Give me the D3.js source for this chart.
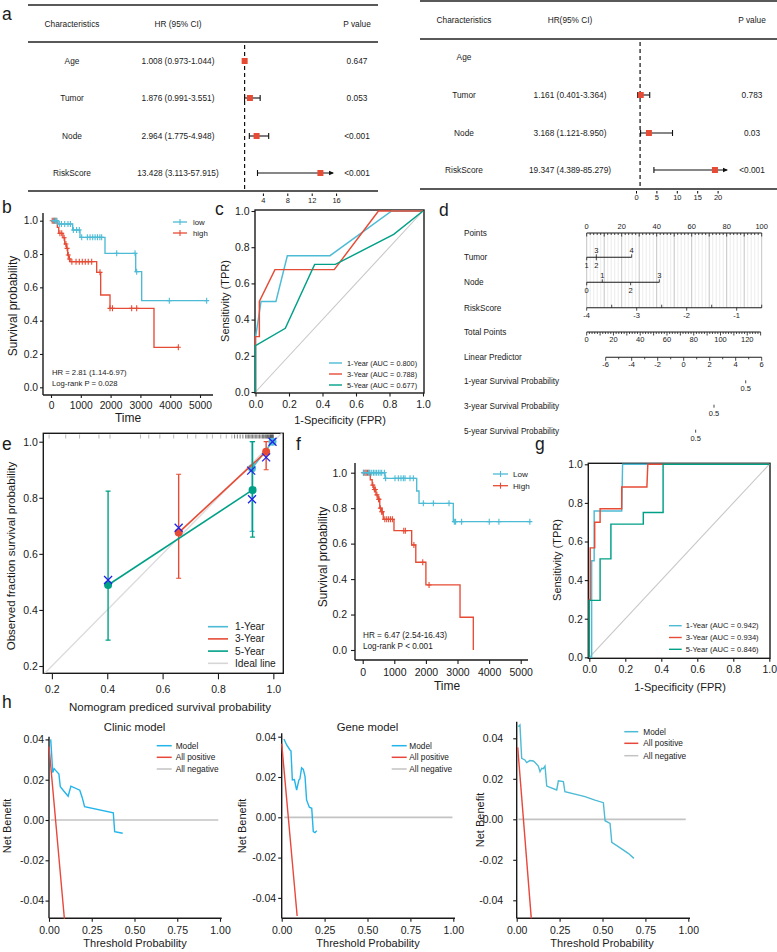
<!DOCTYPE html>
<html>
<head>
<meta charset="utf-8">
<script src="https://cdn.jsdelivr.net/npm/d3@7"></script>
<style>
  body { margin: 0; background: #fff; }
  svg text { font-family: "Liberation Sans", Arial, sans-serif; fill: #1a1a1a; }
</style>
</head>
<body>
<svg id="fig" width="777" height="952"></svg>
<script>
// ---------------- data ----------------
// a: cox forest tables (univariate left, multivariate right)
var coxVars = ["Age", "Tumor", "Node", "RiskScore"];
var uniHR = [1.008, 1.876, 2.964, 13.428];
var uniLo = [0.973, 0.991, 1.775, 3.113];
var uniHi = [1.044, 3.551, 4.948, 57.915];
var uniP  = ["0.647", "0.053", "<0.001", "<0.001"];
var multiHR = [null, 1.161, 3.168, 19.347];
var multiLo = [null, 0.401, 1.121, 4.389];
var multiHi = [null, 3.364, 8.950, 85.279];
var multiP  = ["", "0.783", "0.03", "<0.001"];
var uniTicks = [4, 8, 12, 16];
var multiTicks = [0, 5, 10, 15, 20];

// b: KM curves, risk groups
var kmTimeTicks = [0, 1000, 2000, 3000, 4000, 5000];
var probTicks = [0, 0.2, 0.4, 0.6, 0.8, 1.0];
var bLowTime = [0, 235, 728, 973, 1812, 2842, 3043, 5224];
var bLowSurv = [1, 0.98, 0.944, 0.90, 0.804, 0.694, 0.52, 0.52];
var bLowCens = [100, 150, 200, 280, 350, 460, 570, 650, 750, 860, 950, 1030, 1220, 1310, 1400, 1480, 1560, 1640, 1700, 2205, 2820, 2875, 3970, 5224];
var bHighTime = [0, 213, 260, 400, 460, 520, 560, 600, 640, 1533, 1667, 1980, 3456, 4273];
var bHighSurv = [1, 0.96, 0.924, 0.898, 0.86, 0.834, 0.794, 0.77, 0.754, 0.69, 0.554, 0.474, 0.24, 0.24];
var bHighCens = [40, 80, 120, 170, 300, 360, 440, 500, 540, 580, 620, 700, 840, 950, 1050, 1150, 1250, 1365, 1644, 1980, 2063, 2707, 2875, 4273];

// c: time-dependent ROC
var rocYears = ["1-Year", "3-Year", "5-Year"];
var cAUC = [0.800, 0.788, 0.677];
var c1Fpr = [0, 0, 0.033, 0.122, 0.19, 0.445, 0.813, 1];
var c1Tpr = [0, 0.30, 0.50, 0.50, 0.753, 0.753, 1, 1];
var c3Fpr = [0, 0, 0.023, 0.023, 0.116, 0.47, 0.734, 1];
var c3Tpr = [0, 0.306, 0.306, 0.5, 0.676, 0.676, 1, 1];
var c5Fpr = [0, 0, 0.178, 0.353, 0.477, 0.825, 1];
var c5Tpr = [0, 0.256, 0.352, 0.705, 0.705, 0.871, 1];
var unitTicks = [0, 0.2, 0.4, 0.6, 0.8, 1.0];
var diagLine = [0, 1];

// d: nomogram
var nomoRows = ["Points", "Tumor", "Node", "RiskScore", "Total Points", "Linear Predictor",
  "1-year Survival Probability", "3-year Survival Probability", "5-year Survival Probability"];
var tumorLevels = ["1", "2", "3", "4"];
var tumorPts = [0, 5.5, 5.5, 25.7];
var tumorSide = ["below", "below", "above", "above"];
var nodeLevels = ["0", "1", "2", "3"];
var nodePts = [0, 8.9, 25.1, 41.5];
var nodeSide = ["below", "above", "below", "above"];
var riskTicks = [-4, -3, -2, -1];
var totalTicks = [0, 20, 40, 60, 80, 100, 120];
var lpTicks = [-6, -4, -2, 0, 2, 4, 6];
var survProbLabel = ["0.5", "0.5", "0.5"];
var survProbLP = [4.77, 2.33, 0.92];

// e: calibration
var calYears = ["1-Year", "3-Year", "5-Year", "Ideal line"];
var cal1Pred = [0.923, 0.997], cal1Obs = [0.905, 1.0], cal1Lo = [0.68, 1.0], cal1Hi = [1.0, 1.0];
var cal3Pred = [0.658, 0.974], cal3Obs = [0.676, 0.964], cal3Lo = [0.513, 0.90], cal3Hi = [0.884, 1.0];
var cal5Pred = [0.403, 0.925], cal5Obs = [0.489, 0.828], cal5Lo = [0.292, 0.66], cal5Hi = [0.824, 1.0];
var kmXPred = [0.403, 0.658, 0.923, 0.92, 0.974, 0.997];
var kmXObs  = [0.507, 0.693, 0.795, 0.897, 0.944, 1.0];
var calRug = [0.19, 0.25, 0.30, 0.37, 0.41, 0.52, 0.55, 0.59, 0.64, 0.69, 0.72, 0.76, 0.78, 0.81, 0.83, 0.85,
  0.86, 0.87, 0.88, 0.89, 0.90, 0.905, 0.91, 0.915, 0.92, 0.925, 0.93, 0.935, 0.94, 0.945, 0.95, 0.955, 0.96,
  0.963, 0.966, 0.97, 0.973, 0.976, 0.979, 0.982, 0.985, 0.988, 0.99, 0.992, 0.994, 0.996, 0.998, 1.0];
var calTicks = [0.2, 0.4, 0.6, 0.8, 1.0];
var idealLine = [0, 1.1];

// f: KM curves, second set
var fLowTime = [0, 706, 1709, 1782, 2867, 5294];
var fLowSurv = [1, 0.968, 0.897, 0.827, 0.724, 0.724];
var fLowCens = [20, 100, 180, 230, 285, 340, 390, 440, 496, 550, 601, 686, 726, 1022, 1128, 1212, 1286, 1339, 1497, 1603, 1919, 2236, 2732, 2900, 2940, 3130, 4005, 4310, 5290];
var fHighTime = [0, 240, 300, 350, 420, 480, 540, 600, 650, 990, 1550, 1680, 2000, 3080, 3500];
var fHighSurv = [1.0, 0.96, 0.93, 0.905, 0.875, 0.85, 0.80, 0.78, 0.737, 0.673, 0.592, 0.495, 0.367, 0.185, 0];
var fHighCens = [30, 70, 110, 150, 200, 320, 370, 400, 450, 500, 520, 560, 600, 620, 700, 760, 820, 880, 940, 1300, 1350, 1620, 1900, 2100];

// g: ROC, second set
var gAUC = [0.942, 0.934, 0.846];
var g1Fpr = [0, 0.013, 0.013, 0.027, 0.027, 0.18, 0.185, 1];
var g1Tpr = [0, 0, 0.5, 0.5, 0.758, 0.758, 1.0, 1];
var g3Fpr = [0, 0, 0.005, 0.005, 0.03, 0.03, 0.06, 0.06, 0.18, 0.18, 0.32, 0.325, 1];
var g3Tpr = [0, 0.3, 0.3, 0.567, 0.567, 0.70, 0.70, 0.77, 0.77, 0.882, 0.882, 1.0, 1];
var g5Fpr = [0, 0, 0.06, 0.06, 0.12, 0.12, 0.30, 0.30, 0.41, 0.41, 1];
var g5Tpr = [0, 0.295, 0.295, 0.51, 0.51, 0.69, 0.69, 0.75, 0.75, 1.0, 1];

// h: decision curves
var dcaLabels = ["Model", "All positive", "All negative"];
var dcaXTicks = [0, 0.25, 0.5, 0.75, 1.0];
var dcaYTicks = [-0.04, -0.02, 0, 0.02, 0.04];
var h1ModelX = [0.010, 0.022, 0.030, 0.040, 0.058, 0.066, 0.090, 0.112, 0.128, 0.180, 0.194, 0.208, 0.376, 0.384, 0.431];
var h1ModelY = [0.040, 0.0235, 0.0255, 0.0245, 0.0228, 0.0165, 0.0140, 0.0118, 0.0168, 0.0148, 0.0112, 0.0066, 0.0036, -0.0058, -0.0066];
var h1PosX = [0, 0.09], h1PosY = [0.0365, -0.049];
var h1NegX = [0.01, 0.99], h1NegY = [0, 0];
var h2ModelX = [0.013, 0.029, 0.048, 0.054, 0.062, 0.074, 0.087, 0.100, 0.106, 0.116, 0.126, 0.136, 0.145, 0.161, 0.175, 0.184, 0.194, 0.204];
var h2ModelY = [0.0389, 0.0359, 0.0334, 0.033, 0.0185, 0.0187, 0.0135, 0.0185, 0.019, 0.0245, 0.0238, 0.0202, 0.0086, 0.005, 0.0045, -0.0071, -0.0076, -0.0066];
var h2PosX = [0, 0.09], h2PosY = [0.0365, -0.049];
var h2NegX = [0.015, 0.995], h2NegY = [0, 0];
var h3ModelX = [0.0095, 0.019, 0.029, 0.048, 0.058, 0.077, 0.097, 0.107, 0.126, 0.136, 0.146, 0.155, 0.165, 0.175, 0.233, 0.243, 0.272, 0.281, 0.398, 0.456, 0.505, 0.515, 0.544, 0.554, 0.592, 0.65, 0.683];
var h3ModelY = [0.0457, 0.0466, 0.0301, 0.0293, 0.028, 0.029, 0.0288, 0.028, 0.0263, 0.0235, 0.0252, 0.025, 0.0263, 0.0164, 0.0145, 0.019, 0.0186, 0.0136, 0.0112, 0.0095, 0.0082, -0.0007, -0.002, -0.0114, -0.0135, -0.0168, -0.0193];
var h3PosX = [0.006, 0.085], h3PosY = [0.0355, -0.0489];
var h3NegX = [0.01, 0.985], h3NegY = [0, 0];

// ---------------- drawing ----------------
var svg = d3.select("#fig");
var RED = "#E64B35", CYAN = "#4DBBD5", GREEN = "#00A087", BLUE = "#2323E6";
var INK = "#1a1a1a";
// plain hyphen for negative numbers, like the original figure
var loc = d3.formatLocale({decimal: ".", thousands: ",", grouping: [3], currency: ["$", ""], minus: "-"});
var f1 = loc.format(".1f"), f2 = loc.format(".2f"), f3 = loc.format(".3f"), fd = loc.format("d");

function txt(g, x, y, s, size, anchor) {
  return g.append("text").attr("x", x).attr("y", y).attr("font-size", size)
    .attr("text-anchor", anchor || "start").text(s);
}
function vtxt(g, x, y, s, size) {
  return g.append("text").attr("transform", "translate(" + x + "," + y + ") rotate(-90)")
    .attr("font-size", size).attr("text-anchor", "middle").text(s);
}
function seg(g, x1, y1, x2, y2, color, w) {
  return g.append("line").attr("x1", x1).attr("y1", y1).attr("x2", x2).attr("y2", y2)
    .attr("stroke", color || INK).attr("stroke-width", w || 1);
}
function pathXY(g, x, y, xs, ys, color, w) {
  var pts = xs.map(function(v, i) { return [v, ys[i]]; });
  return g.append("path").datum(pts)
    .attr("d", d3.line().x(function(d) { return x(d[0]); }).y(function(d) { return y(d[1]); }))
    .attr("fill", "none").attr("stroke", color).attr("stroke-width", w || 1.2);
}

// axes: either a full box (base R) or an L shape (ggplot-like)
function axes(g, x, y, o) {
  var ax = g.append("g").attr("transform", "translate(0," + o.bottom + ")")
    .call(d3.axisBottom(x).tickValues(o.xTicks).tickFormat(o.xFmt).tickSize(o.xTick || o.tick).tickPadding(o.xPad));
  var ay = g.append("g").attr("transform", "translate(" + o.left + ",0)")
    .call(d3.axisLeft(y).tickValues(o.yTicks).tickFormat(o.yFmt).tickSize(o.tick).tickPadding(o.yPad));
  [ax, ay].forEach(function(a) {
    a.select(".domain").remove();
    a.selectAll("text").attr("font-size", o.fs).attr("fill", INK);
    a.selectAll("line").attr("stroke", INK).attr("stroke-width", 1.1);
  });
  if (o.box) {
    g.append("rect").attr("x", o.left).attr("y", o.top).attr("width", o.right - o.left)
      .attr("height", o.bottom - o.top).attr("fill", "none").attr("stroke", INK).attr("stroke-width", 1.4);
  } else {
    seg(g, o.left, o.top, o.left, o.bottom, INK, 1.4);
    seg(g, o.left, o.bottom, o.right, o.bottom, INK, 1.4);
  }
}

function panelLetter(s, x, y) { txt(svg, x, y, s, 17.5); }

// ---- a: forest tables ----
function forest(o) {
  var g = svg.append("g");
  var x = d3.scaleLinear().domain(o.domain).range(o.range);
  [o.top, o.head, o.bottom].forEach(function(yy) { seg(g, o.left, yy, o.right, yy, "#222", 1.6); });
  txt(g, o.cols[0], o.headY + 3, "Characteristics", 8.3, "middle");
  txt(g, o.cols[1], o.headY + 3, o.hrTitle, 8.3, "middle");
  txt(g, o.cols[2], o.headY + 3, "P value", 8.3, "middle");
  seg(g, x(1), o.head + 3, x(1), o.bottom, "#111", 1.2).attr("stroke-dasharray", "4,3");
  coxVars.forEach(function(v, i) {
    var yy = o.rows[i];
    txt(g, o.cols[0], yy + 3, v, 8.3, "middle");
    if (o.hr[i] == null) return;
    txt(g, o.cols[1], yy + 3, f3(o.hr[i]) + " (" + f3(o.lo[i]) + "-" + f3(o.hi[i]) + ")", 8.3, "middle");
    txt(g, o.cols[2], yy + 3, o.p[i], 8.3, "middle");
    var clipped = o.hi[i] > o.clip;
    var xe = x(Math.min(o.hi[i], o.clip));
    seg(g, x(o.lo[i]), yy, xe, yy, "#111", 1.1);
    seg(g, x(o.lo[i]), yy - 3, x(o.lo[i]), yy + 3, "#111", 1.1);
    if (clipped) {
      g.append("path").attr("d", "M" + (xe + 1) + "," + yy + "L" + (xe - 4) + "," + (yy - 2.2) + "L" + (xe - 4) + "," + (yy + 2.2) + "Z").attr("fill", "#111");
    } else {
      seg(g, xe, yy - 3, xe, yy + 3, "#111", 1.1);
    }
    g.append("rect").attr("x", x(o.hr[i]) - 3).attr("y", yy - 3).attr("width", 6).attr("height", 6).attr("fill", RED);
  });
  var ax = g.append("g").attr("transform", "translate(0," + o.axisY + ")")
    .call(d3.axisBottom(x).tickValues(o.ticks).tickSize(2.5).tickPadding(1.5));
  ax.select(".domain").remove();
  ax.selectAll("text").attr("font-size", 7.5).attr("fill", INK);
}

forest({left: 28, right: 378, top: 5, head: 42, bottom: 191, headY: 24, rows: [61, 98, 136, 173],
  cols: [72, 178, 357], hrTitle: "HR (95% CI)", hr: uniHR, lo: uniLo, hi: uniHi, p: uniP,
  domain: [0, 16], range: [238.5, 336.1], clip: 15.5, ticks: uniTicks, axisY: 193.5});
forest({left: 420, right: 777, top: 1, head: 39, bottom: 189, headY: 20, rows: [57, 95, 133, 170],
  cols: [464, 570, 752], hrTitle: "HR(95% CI)", hr: multiHR, lo: multiLo, hi: multiHi, p: multiP,
  domain: [0, 20], range: [636, 717.6], clip: 22.3, ticks: multiTicks, axisY: 191});
panelLetter("a", 2, 20);

// ---- KM helpers ----
function km(g, x, y, times, surv, cens, color) {
  var pts = times.map(function(t, i) { return [t, surv[i]]; });
  g.append("path").datum(pts)
    .attr("d", d3.line().x(function(d) { return x(d[0]); }).y(function(d) { return y(d[1]); }).curve(d3.curveStepAfter))
    .attr("fill", "none").attr("stroke", color).attr("stroke-width", 1.35);
  cens.forEach(function(t) {
    var s = surv[d3.bisectRight(times, t) - 1];
    g.append("path").attr("d", "M" + (x(t) - 2.5) + "," + y(s) + "h5M" + x(t) + "," + (y(s) - 3) + "v6")
      .attr("stroke", color).attr("stroke-width", 1.1);
  });
}
function kmLegend(g, x0, x1, tx, ys, labels, colors, fs) {
  labels.forEach(function(l, i) {
    seg(g, x0, ys[i], x1, ys[i], colors[i], 1.3);
    seg(g, (x0 + x1) / 2, ys[i] - 3, (x0 + x1) / 2, ys[i] + 3, colors[i], 1.1);
    txt(g, tx, ys[i] + 3, l, fs);
  });
}
function lineLegend(g, x0, x1, tx, ys, labels, colors, fs, w) {
  labels.forEach(function(l, i) {
    seg(g, x0, ys[i], x1, ys[i], colors[i], w || 1.4);
    txt(g, tx, ys[i] + fs * 0.35, l, fs);
  });
}

// ---- b ----
var gB = svg.append("g");
var bx = d3.scaleLinear().domain([0, 5000]).range([51, 200]);
var by = d3.scaleLinear().domain([0, 1]).range([387.3, 220.7]);
axes(gB, bx, by, {left: 43, right: 213, top: 213, bottom: 395, xTicks: kmTimeTicks, yTicks: probTicks,
  xFmt: fd, yFmt: f1, tick: 3, xPad: 4, yPad: 2, fs: 10.3});
km(gB, bx, by, bHighTime, bHighSurv, bHighCens, RED);
km(gB, bx, by, bLowTime, bLowSurv, bLowCens, CYAN);
kmLegend(gB, 173, 187, 193, [222, 233], ["low", "high"], [CYAN, RED], 7.8);
txt(gB, 52, 375, "HR = 2.81 (1.14-6.97)", 7.7);
txt(gB, 52, 386, "Log-rank P = 0.028", 7.7);
txt(gB, 128, 422, "Time", 12, "middle");
vtxt(gB, 17, 306, "Survival probability", 12);
panelLetter("b", 2, 213);

// ---- ROC helper ----
function rocPanel(g, x, y, box, series, aucs, leg) {
  axes(g, x, y, {box: true, left: box[0], right: box[1], top: box[2], bottom: box[3], xTicks: unitTicks,
    yTicks: unitTicks, xFmt: f1, yFmt: f1, tick: 3.5, xPad: 4, yPad: 2, fs: 10.5});
  pathXY(g, x, y, diagLine, diagLine, "#C8C8C8", 1.1);
  series.forEach(function(s) { pathXY(g, x, y, s[0], s[1], s[2], 1.45); });
  lineLegend(g, leg[0], leg[1], leg[2], leg[3],
    rocYears.map(function(r, i) { return r + " (AUC = " + f3(aucs[i]) + ")"; }), [CYAN, RED, GREEN], leg[4], 1.4);
}

// ---- c ----
var gC = svg.append("g");
var cx = d3.scaleLinear().domain([0, 1]).range([255.5, 423]);
var cy = d3.scaleLinear().domain([0, 1]).range([392, 211]);
rocPanel(gC, cx, cy, [255, 424, 210, 393],
  [[c1Fpr, c1Tpr, CYAN], [c3Fpr, c3Tpr, RED], [c5Fpr, c5Tpr, GREEN]], cAUC,
  [329, 342, 347, [363, 374, 385], 7.3]);
txt(gC, 340, 424, "1-Specificity (FPR)", 11, "middle");
vtxt(gC, 229, 301, "Sensitivity (TPR)", 11);
panelLetter("c", 215, 215);

// ---- d: nomogram ----
var gD = svg.append("g");
var nomoY = [233, 257.3, 282.3, 307.7, 332, 357.3, 381.3, 405.7, 430.7];
var ptsX = d3.scaleLinear().domain([0, 100]).range([586.7, 761.7]);
var riskX = d3.scaleLinear().domain([-4, -0.5]).range([586.7, 761.7]);
var totX = d3.scaleLinear().domain([0, 130.8]).range([586.7, 761.7]);
var lpX = d3.scaleLinear().domain([-6, 6]).range([605.7, 761.7]);
nomoRows.forEach(function(r, i) { txt(gD, 464, nomoY[i] + 3, r, 8.2); });
// vertical grid from points axis down to risk score
d3.range(0, 101, 2).forEach(function(v) {
  seg(gD, ptsX(v), nomoY[0], ptsX(v), nomoY[3], v % 10 == 0 ? "#C4C4C4" : "#E4E4E4", v % 10 == 0 ? 1 : 0.7);
});
function scaleRow(sc, y, lo, hi, minorStep, majorStep, labels, fmt, up) {
  seg(gD, sc(lo), y, sc(hi), y, INK, 1.1);
  d3.range(lo, hi + 1e-9, minorStep).forEach(function(v) {
    var major = Math.abs(v / majorStep - Math.round(v / majorStep)) < 1e-6;
    seg(gD, sc(v), y, sc(v), y + (major ? 3.5 : 2), INK, 0.8);
  });
  labels.forEach(function(v) {
    txt(gD, sc(v), up ? y - 4 : y + 10, fmt(v), 7.5, "middle");
  });
}
scaleRow(ptsX, nomoY[0], 0, 100, 2, 10, d3.range(0, 101, 20), fd, true);
function catRow(y, levels, pts, side) {
  seg(gD, ptsX(0), y, ptsX(d3.max(pts)), y, INK, 1.1);
  levels.forEach(function(l, i) {
    var up = side[i] == "above";
    seg(gD, ptsX(pts[i]), y, ptsX(pts[i]), up ? y - 3 : y + 3, INK, 0.8);
    txt(gD, ptsX(pts[i]), up ? y - 4 : y + 10.5, l, 7.5, "middle");
  });
}
catRow(nomoY[1], tumorLevels, tumorPts, tumorSide);
catRow(nomoY[2], nodeLevels, nodePts, nodeSide);
// risk score axis with half ticks on top
seg(gD, riskX(-4), nomoY[3], riskX(-0.5), nomoY[3], INK, 1.1);
riskTicks.forEach(function(v) {
  seg(gD, riskX(v), nomoY[3], riskX(v), nomoY[3] + 3, INK, 0.8);
  seg(gD, riskX(v + 0.5), nomoY[3], riskX(v + 0.5), nomoY[3] - 3, INK, 0.8);
  txt(gD, riskX(v), nomoY[3] + 10.5, fd(v), 7.5, "middle");
});
scaleRow(totX, nomoY[4], 0, 130, 2, 10, totalTicks, fd, false);
scaleRow(lpX, nomoY[5], -6, 6, 1, 2, lpTicks, fd, false);
survProbLP.forEach(function(v, i) {
  var y = nomoY[6 + i];
  seg(gD, lpX(v), y - 1, lpX(v), y + 2, INK, 0.8);
  txt(gD, lpX(v), y + 10, survProbLabel[i], 7.5, "middle");
});
panelLetter("d", 439, 216);

// ---- e: calibration ----
var gE = svg.append("g");
var ex = d3.scaleLinear().domain([0.169, 1.036]).range([43.3, 283.3]);
var ey = d3.scaleLinear().domain([0.174, 1.03]).range([673.3, 433.3]);
gE.append("clipPath").attr("id", "clipE").append("rect")
  .attr("x", 43.3).attr("y", 433.3).attr("width", 240).attr("height", 240);
axes(gE, ex, ey, {box: true, left: 43.3, right: 283.3, top: 433.3, bottom: 673.3, xTicks: calTicks, yTicks: calTicks,
  xFmt: f1, yFmt: f1, tick: 4, xTick: 6, xPad: 6, yPad: 1.5, fs: 10.5});
var gEc = gE.append("g").attr("clip-path", "url(#clipE)");
pathXY(gEc, ex, ey, idealLine, idealLine, "#DCDCDC", 1.4);
calRug.forEach(function(v) {
  seg(gEc, ex(v), 434.5, ex(v), 438.5, v > 0.85 ? "#222" : "#888", 0.6);
});
var calSeries = [
  {pred: cal1Pred, obs: cal1Obs, lo: cal1Lo, hi: cal1Hi, color: CYAN},
  {pred: cal3Pred, obs: cal3Obs, lo: cal3Lo, hi: cal3Hi, color: RED},
  {pred: cal5Pred, obs: cal5Obs, lo: cal5Lo, hi: cal5Hi, color: GREEN}
];
calSeries.forEach(function(s) {
  s.pred.forEach(function(p, i) {
    seg(gEc, ex(p), ey(s.lo[i]), ex(p), ey(s.hi[i]), s.color, 1.4);
    seg(gEc, ex(p) - 2.5, ey(s.lo[i]), ex(p) + 2.5, ey(s.lo[i]), s.color, 1.2);
    seg(gEc, ex(p) - 2.5, ey(s.hi[i]), ex(p) + 2.5, ey(s.hi[i]), s.color, 1.2);
  });
  pathXY(gEc, ex, ey, s.pred, s.obs, s.color, 1.6);
  s.pred.forEach(function(p, i) {
    gEc.append("circle").attr("cx", ex(p)).attr("cy", ey(s.obs[i])).attr("r", 4).attr("fill", s.color);
  });
});
kmXPred.forEach(function(p, i) {
  var cxp = ex(p), cyp = ey(kmXObs[i]);
  gEc.append("path").attr("d", "M" + (cxp - 4) + "," + (cyp - 4) + "l8,8M" + (cxp - 4) + "," + (cyp + 4) + "l8,-8")
    .attr("stroke", BLUE).attr("stroke-width", 1.3);
});
lineLegend(gE, 208, 228, 235, [626.7, 638.9, 651.1, 663.3], calYears, [CYAN, RED, GREEN, "#D6D6D6"], 10.2, 1.6);
txt(gE, 170, 711, "Nomogram prediced survival probability", 11.5, "middle");
vtxt(gE, 15, 556, "Observed fraction survival probability", 11.5);
panelLetter("e", 2, 450);

// ---- f ----
var gF = svg.append("g");
var fx = d3.scaleLinear().domain([0, 5000]).range([362.7, 520.7]);
var fy = d3.scaleLinear().domain([0, 1]).range([650, 472.7]);
axes(gF, fx, fy, {left: 355, right: 528, top: 463, bottom: 660, xTicks: kmTimeTicks, yTicks: probTicks,
  xFmt: fd, yFmt: f1, tick: 4, xPad: 4.5, yPad: 4, fs: 10.5});
km(gF, fx, fy, fHighTime, fHighSurv, fHighCens, RED);
km(gF, fx, fy, fLowTime, fLowSurv, fLowCens, CYAN);
kmLegend(gF, 493, 508, 513, [474, 485.7], ["Low", "High"], [CYAN, RED], 8.1);
txt(gF, 363, 638, "HR = 6.47 (2.54-16.43)", 8.2);
txt(gF, 363, 649, "Log-rank P < 0.001", 8.2);
txt(gF, 447, 690, "Time", 12, "middle");
vtxt(gF, 327, 557, "Survival probability", 12);
panelLetter("f", 296, 450);

// ---- g ----
var gG = svg.append("g");
var gx = d3.scaleLinear().domain([0, 1]).range([589.3, 769.3]);
var gy = d3.scaleLinear().domain([0, 1]).range([657.3, 464.3]);
rocPanel(gG, gx, gy, [588.3, 770, 463.3, 658.3],
  [[g1Fpr, g1Tpr, CYAN], [g3Fpr, g3Tpr, RED], [g5Fpr, g5Tpr, GREEN]], gAUC,
  [669, 681.7, 685.7, [625.7, 637.5, 649.3], 7.6]);
txt(gG, 680, 691, "1-Specificity (FPR)", 11, "middle");
vtxt(gG, 561, 560, "Sensitivity (TPR)", 11);
panelLetter("g", 535, 450);

// ---- h: decision curves ----
var dcaPanels = [
  {title: "Clinic model", xr: [49, 220], y0: 820, y4: 739.4, top: 736.7, right: 221.7, yPad: 1.5,
   leg: [156.7, 171.7, 175.7, [745.7, 757.3, 769]], nbX: 11, nbY: 826, tpX: 135, model: "#22B4EA",
   mx: h1ModelX, my: h1ModelY, px: h1PosX, py: h1PosY, nx: h1NegX, ny: h1NegY},
  {title: "Gene model", xr: [281.7, 453.3], y0: 817.3, y4: 736.7, top: 733.3, right: 455, yPad: 2,
   leg: [391.7, 406.7, 409.3, [745.7, 757.3, 769]], nbX: 246, nbY: 826, tpX: 368, model: "#22B4EA",
   mx: h2ModelX, my: h2ModelY, px: h2PosX, py: h2PosY, nx: h2NegX, ny: h2NegY},
  {title: "", xr: [516.7, 688.3], y0: 819.3, y4: 738.3, top: 721.7, right: 690, yPad: 10,
   leg: [624.3, 638.3, 643.3, [731.7, 743.3, 755.7]], nbX: 484, nbY: 820, tpX: 602, model: "#4DBBD5",
   mx: h3ModelX, my: h3ModelY, px: h3PosX, py: h3PosY, nx: h3NegX, ny: h3NegY}
];
dcaPanels.forEach(function(p) {
  var g = svg.append("g");
  var x = d3.scaleLinear().domain([0, 1]).range(p.xr);
  var y = d3.scaleLinear().domain([0, 0.04]).range([p.y0, p.y4]);
  axes(g, x, y, {left: p.xr[0], right: p.right, top: p.top, bottom: 918.3, xTicks: dcaXTicks, yTicks: dcaYTicks,
    xFmt: f2, yFmt: f2, tick: 3.5, xPad: 5, yPad: p.yPad, fs: 10.5});
  pathXY(g, x, y, p.nx, p.ny, "#C3C3C3", 1.7);
  pathXY(g, x, y, p.px, p.py, "#E8473B", 1.4);
  pathXY(g, x, y, p.mx, p.my, p.model, 1.4);
  lineLegend(g, p.leg[0], p.leg[1], p.leg[2], p.leg[3], dcaLabels, [p.model, "#E8473B", "#C3C3C3"], 8.3, 1.5);
  if (p.title) txt(g, (p.xr[0] + p.xr[1]) / 2, 731, p.title, 11.3, "middle");
  txt(g, p.tpX, 947, "Threshold Probability", 11, "middle");
  vtxt(g, p.nbX, p.nbY, "Net Benefit", 11);
});
panelLetter("h", 2, 708);
</script>
</body>
</html>
